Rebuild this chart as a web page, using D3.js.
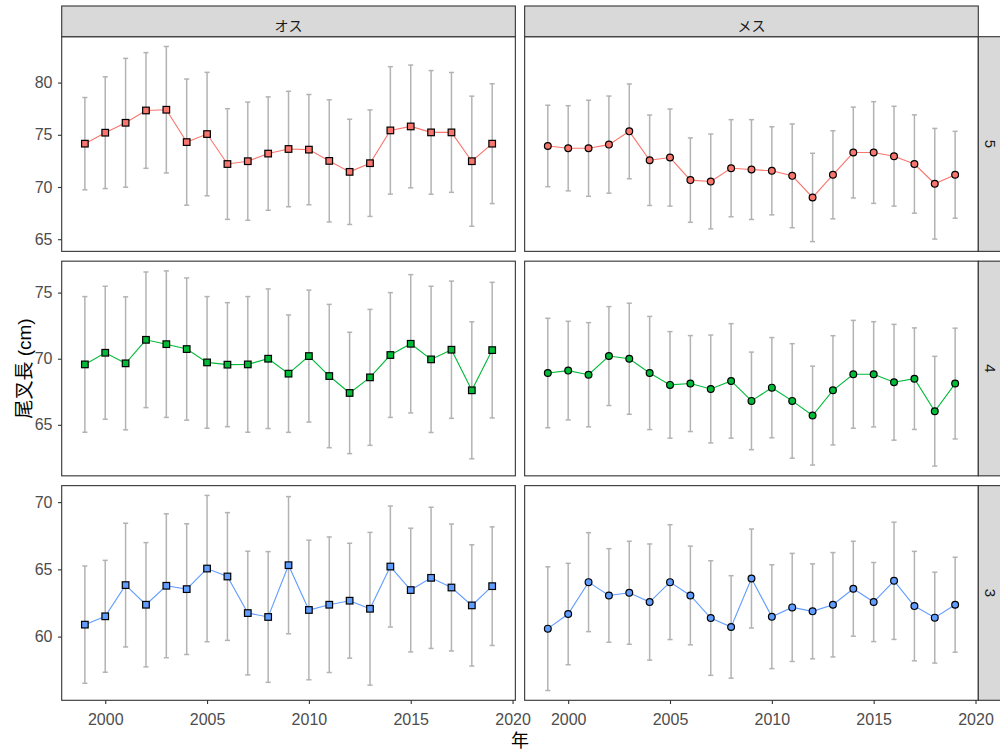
<!DOCTYPE html>
<html>
<head>
<meta charset="utf-8">
<script src="https://cdn.jsdelivr.net/npm/d3@7"></script>
<style>
  body { margin: 0; background: #fff; }
  svg { display: block; }
  text { font-family: "Liberation Sans", Arial, "Noto Sans CJK JP", sans-serif; }
</style>
</head>
<body>
<svg id="chart" width="1000" height="749"></svg>
<script>
// Survey years
const years = [1999, 2000, 2001, 2002, 2003, 2004, 2005, 2006, 2007, 2008, 2009,
               2010, 2011, 2012, 2013, 2014, 2015, 2016, 2017, 2018, 2019];

// Facet labels: columns by sex, rows by age
const sexes = ["オス", "メス"];
const ages = ["5", "4", "3"];
const ageColors = ["#F8766D", "#00BA38", "#619CFF"];

// Axis ticks
const xTicks = [2000, 2005, 2010, 2015, 2020];
const yTicksAge5 = [65, 70, 75, 80];
const yTicksAge4 = [65, 70, 75];
const yTicksAge3 = [60, 65, 70];

// Mean fork length (cm) and standard deviation by year
const maleAge5Mean = [74.15, 75.2, 76.15, 77.33, 77.4, 74.3, 75.07, 72.2, 72.47, 73.2, 73.64, 73.58, 72.5, 71.45, 72.28, 75.42, 75.8, 75.23, 75.23, 72.47, 74.15];
const maleAge5Sd   = [4.42, 5.35, 6.17, 5.54, 6.06, 6.04, 5.91, 5.3, 5.66, 5.43, 5.53, 5.28, 5.85, 5.04, 5.1, 6.1, 5.88, 5.92, 5.74, 6.23, 5.74];
const femaleAge5Mean = [73.93, 73.71, 73.71, 74.06, 75.33, 72.56, 72.82, 70.66, 70.53, 71.8, 71.67, 71.55, 71.07, 69.0, 71.17, 73.3, 73.3, 72.95, 72.2, 70.31, 71.17];
const femaleAge5Sd   = [3.9, 4.08, 4.6, 4.65, 4.54, 4.33, 4.65, 4.04, 4.54, 4.65, 4.78, 4.22, 4.97, 4.23, 4.22, 4.35, 4.87, 4.78, 4.71, 5.3, 4.16];

const maleAge4Mean = [69.57, 70.45, 69.65, 71.43, 71.1, 70.73, 69.72, 69.55, 69.57, 70.0, 68.87, 70.2, 68.69, 67.41, 68.59, 70.28, 71.13, 69.95, 70.68, 67.61, 70.65];
const maleAge4Sd   = [5.13, 5.03, 5.03, 5.13, 5.54, 5.38, 4.98, 4.69, 5.13, 5.28, 4.44, 4.99, 5.42, 4.59, 5.14, 4.72, 5.23, 5.53, 5.19, 5.18, 5.13];
const femaleAge4Mean = [68.92, 69.1, 68.79, 70.2, 70.0, 68.92, 68.02, 68.12, 67.71, 68.32, 66.81, 67.81, 66.81, 65.7, 67.61, 68.82, 68.82, 68.22, 68.49, 66.03, 68.12];
const femaleAge4Sd   = [4.14, 3.73, 3.94, 3.74, 4.2, 4.28, 4.03, 3.63, 4.08, 4.33, 3.69, 3.79, 4.33, 3.74, 4.13, 4.08, 3.98, 4.38, 3.84, 4.15, 4.19];

const maleAge3Mean = [60.89, 61.51, 63.83, 62.37, 63.78, 63.53, 65.06, 64.47, 61.75, 61.46, 65.31, 61.98, 62.37, 62.67, 62.07, 65.21, 63.46, 64.37, 63.65, 62.32, 63.75];
const maleAge3Sd   = [4.36, 4.16, 4.6, 4.62, 5.35, 4.86, 5.44, 4.75, 4.6, 4.86, 5.1, 5.19, 5.04, 4.27, 5.68, 4.5, 4.6, 5.25, 4.72, 4.51, 4.41];
const femaleAge3Mean = [60.59, 61.68, 64.05, 63.06, 63.26, 62.57, 64.05, 63.06, 61.38, 60.72, 64.32, 61.48, 62.17, 61.88, 62.37, 63.56, 62.57, 64.15, 62.27, 61.41, 62.37];
const femaleAge3Sd   = [4.6, 3.77, 3.68, 3.48, 3.83, 4.32, 4.27, 3.67, 4.26, 3.81, 3.68, 3.86, 4.02, 3.53, 3.88, 3.53, 2.94, 4.36, 4.07, 3.38, 3.53];

// Facet table assembled from the arrays above
const rows = [
  { age: ages[0], color: ageColors[0], ticks: yTicksAge5,
    series: [{ mean: maleAge5Mean, sd: maleAge5Sd }, { mean: femaleAge5Mean, sd: femaleAge5Sd }] },
  { age: ages[1], color: ageColors[1], ticks: yTicksAge4,
    series: [{ mean: maleAge4Mean, sd: maleAge4Sd }, { mean: femaleAge4Mean, sd: femaleAge4Sd }] },
  { age: ages[2], color: ageColors[2], ticks: yTicksAge3,
    series: [{ mean: maleAge3Mean, sd: maleAge3Sd }, { mean: femaleAge3Mean, sd: femaleAge3Sd }] }
];

// Layout
const area = { left: 61.7, right: 978.3, top: 36.7, bottom: 700.3 };
const colGap = 9.3, rowGap = 9.8;
const panelW = (area.right - area.left - colGap) / 2;
const panelH = (area.bottom - area.top - 2 * rowGap) / 3;
const stripTop = 6;
const stripW = 31;
const capWidth = 0.25; // error bar cap width, in years

const svg = d3.select("#chart");
svg.append("rect").attr("width", 1000).attr("height", 749).attr("fill", "#fff");

// Shared x scale domain with 5% expansion
const xRaw = [d3.min(years) - capWidth / 2, d3.max(years) + capWidth / 2];
const xPad = (xRaw[1] - xRaw[0]) * 0.05;
const xDomain = [xRaw[0] - xPad, xRaw[1] + xPad];

rows.forEach((row, r) => {
  const py = area.top + r * (panelH + rowGap);
  // Free y scale per row: spans mean ± sd of both sexes, expanded by 5%
  const lo = d3.min(row.series, s => d3.min(s.mean, (m, i) => m - s.sd[i]));
  const hi = d3.max(row.series, s => d3.max(s.mean, (m, i) => m + s.sd[i]));
  const yPad = (hi - lo) * 0.05;
  const y = d3.scaleLinear().domain([lo - yPad, hi + yPad]).range([py + panelH, py]);

  sexes.forEach((sex, c) => {
    const px = area.left + c * (panelW + colGap);
    const x = d3.scaleLinear().domain(xDomain).range([px, px + panelW]);
    const s = row.series[c];
    const pts = years.map((yr, i) => ({ yr, m: s.mean[i], sd: s.sd[i] }));
    const g = svg.append("g");

    g.append("rect").attr("x", px).attr("y", py).attr("width", panelW).attr("height", panelH)
      .attr("fill", "#fff");

    // Error bars (mean ± sd)
    const eb = g.append("g").attr("stroke", "#b3b3b3").attr("stroke-width", 1.5).attr("fill", "none");
    eb.selectAll("line.v").data(pts).join("line").attr("class", "v")
      .attr("x1", d => x(d.yr)).attr("x2", d => x(d.yr))
      .attr("y1", d => y(d.m - d.sd)).attr("y2", d => y(d.m + d.sd));
    eb.selectAll("line.top").data(pts).join("line").attr("class", "top")
      .attr("x1", d => x(d.yr - capWidth / 2)).attr("x2", d => x(d.yr + capWidth / 2))
      .attr("y1", d => y(d.m + d.sd)).attr("y2", d => y(d.m + d.sd));
    eb.selectAll("line.bot").data(pts).join("line").attr("class", "bot")
      .attr("x1", d => x(d.yr - capWidth / 2)).attr("x2", d => x(d.yr + capWidth / 2))
      .attr("y1", d => y(d.m - d.sd)).attr("y2", d => y(d.m - d.sd));

    // Mean line
    g.append("path").datum(pts)
      .attr("fill", "none").attr("stroke", row.color).attr("stroke-width", 1.1)
      .attr("d", d3.line().x(d => x(d.yr)).y(d => y(d.m)));

    // Markers: squares for males, circles for females
    if (c === 0) {
      const side = 6.6;
      g.selectAll("rect.pt").data(pts).join("rect").attr("class", "pt")
        .attr("x", d => x(d.yr) - side / 2).attr("y", d => y(d.m) - side / 2)
        .attr("width", side).attr("height", side)
        .attr("fill", row.color).attr("stroke", "#000").attr("stroke-width", 1.2);
    } else {
      g.selectAll("circle.pt").data(pts).join("circle").attr("class", "pt")
        .attr("cx", d => x(d.yr)).attr("cy", d => y(d.m)).attr("r", 3.4)
        .attr("fill", row.color).attr("stroke", "#000").attr("stroke-width", 1.2);
    }

    // Panel border
    g.append("rect").attr("x", px).attr("y", py).attr("width", panelW).attr("height", panelH)
      .attr("fill", "none").attr("stroke", "#333").attr("stroke-width", 1.1);

    // Left axis on the first column
    if (c === 0) {
      const ax = svg.append("g").attr("transform", `translate(${px},0)`)
        .call(d3.axisLeft(y).tickValues(row.ticks).tickSize(3.7).tickPadding(5.5));
      ax.select(".domain").remove();
      ax.selectAll("line").attr("stroke", "#333").attr("stroke-width", 1.1);
      ax.selectAll("text").attr("fill", "#4d4d4d").style("font-size", "16px")
        .style("font-family", '"Liberation Sans", Arial, sans-serif');
    }
    // Bottom axis on the last row
    if (r === rows.length - 1) {
      const ax = svg.append("g").attr("transform", `translate(0,${py + panelH})`)
        .call(d3.axisBottom(x).tickValues(xTicks).tickFormat(d3.format("d")).tickSize(3.7).tickPadding(9.5));
      ax.select(".domain").remove();
      ax.selectAll("line").attr("stroke", "#333").attr("stroke-width", 1.1);
      ax.selectAll("text").attr("fill", "#4d4d4d").style("font-size", "16px")
        .style("font-family", '"Liberation Sans", Arial, sans-serif');
    }
    // Column strip on the top row
    if (r === 0) {
      svg.append("rect").attr("x", px).attr("y", stripTop).attr("width", panelW).attr("height", py - stripTop)
        .attr("fill", "#d9d9d9").attr("stroke", "#333").attr("stroke-width", 1.1);
      svg.append("text").attr("x", px + panelW / 2).attr("y", 25)
        .attr("text-anchor", "middle").attr("dominant-baseline", "central")
        .attr("fill", "#1a1a1a").style("font-size", "14px")
        .style("font-family", '"Noto Sans CJK JP", sans-serif')
        .text(sex);
    }
  });

  // Row strip on the right
  svg.append("rect").attr("x", area.right).attr("y", py).attr("width", stripW).attr("height", panelH)
    .attr("fill", "#d9d9d9").attr("stroke", "#333").attr("stroke-width", 1.1);
  svg.append("text")
    .attr("transform", `translate(990,${py + panelH / 2}) rotate(90)`)
    .attr("text-anchor", "middle").attr("dominant-baseline", "central")
    .attr("fill", "#1a1a1a").style("font-size", "15px")
    .text(row.age);
});

// Axis titles
svg.append("text").attr("x", (area.left + area.right) / 2).attr("y", 738.5)
  .attr("text-anchor", "middle").attr("dominant-baseline", "central")
  .attr("fill", "#000").style("font-size", "18px")
  .style("font-family", '"Noto Sans CJK JP", sans-serif')
  .text("年");
svg.append("text")
  .attr("transform", `translate(24,${(area.top + area.bottom) / 2}) rotate(-90)`)
  .attr("text-anchor", "middle").attr("dominant-baseline", "central")
  .attr("fill", "#000").style("font-size", "19px")
  .style("font-family", '"Liberation Sans", "Noto Sans CJK JP", sans-serif')
  .text("尾叉長 (cm)");
</script>
</body>
</html>
